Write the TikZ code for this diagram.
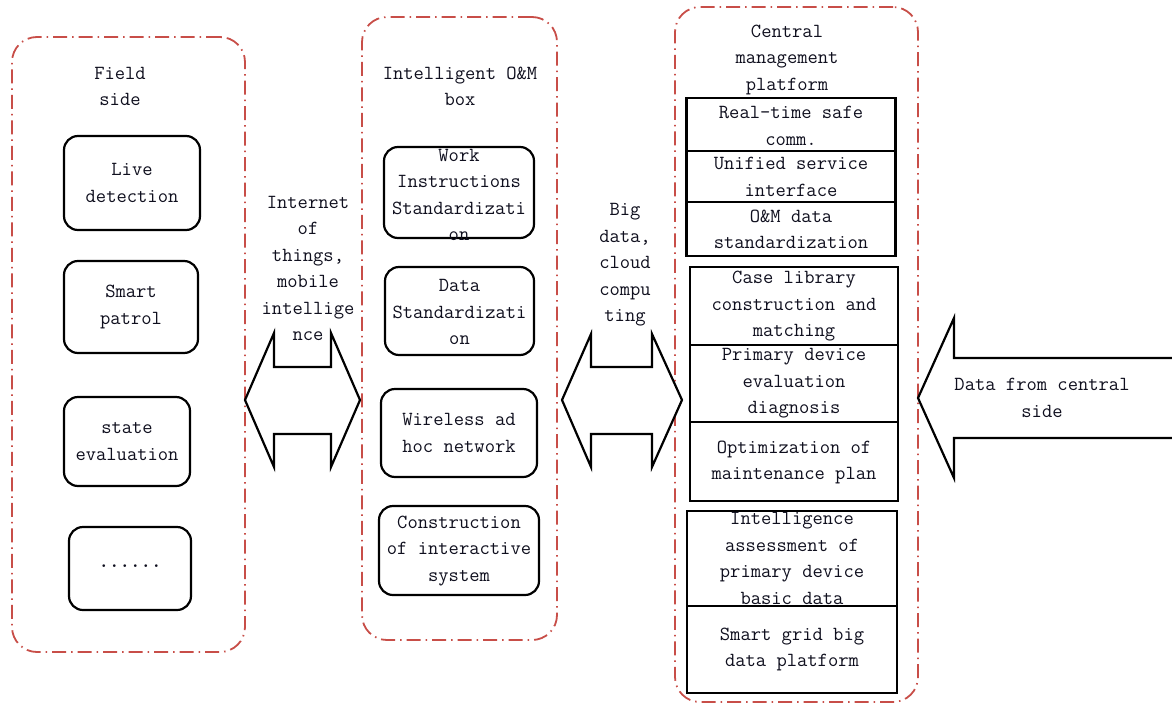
\documentclass[tikz,border=0pt]{standalone}
\definecolor{redline}{RGB}{200,78,72}
\definecolor{txt}{RGB}{15,15,30}
\tikzset{
  lbl/.style={align=center, text=txt, inner sep=0pt, font=\ttfamily\fontsize{20}{26.5}\selectfont},
  redbox/.style={draw=redline, line width=1.8pt, rounded corners=25pt,
     dash pattern=on 14pt off 5pt on 1.5pt off 5pt, inner sep=0pt, outer sep=0pt},
  roundbox/.style={draw=black, line width=2.2pt, rounded corners=14pt, inner sep=0pt},
  sqbox/.style={draw=black, line width=2.2pt, inner sep=0pt},
  bigarrow/.style={draw=black, line width=2.2pt, line join=miter, fill=white}
}
\begin{document}
\begin{tikzpicture}[x=1pt,y=-1pt]
\useasboundingbox[fill=white] (0,0) rectangle (1172,704);
% outer dashed groups
\node[redbox, minimum width=233pt, minimum height=615pt] (field) at (128.5,344.5) {};
\node[redbox, minimum width=195pt, minimum height=623pt] (box) at (459.5,328.5) {};
\node[redbox, minimum width=243pt, minimum height=695pt] (central) at (796.5,354.5) {};
% titles
\node[lbl] (fieldt) at (120,86.5) {Field\\side};
\node[lbl] (boxt) at (460,86.5) {Intelligent O\&M\\box};
\node[lbl] (centralt) at (787,59.5) {Central\\management\\platform};
% field side boxes
\node[roundbox, minimum width=136pt, minimum height=94pt] (f1) at (132,183) {};
\node[lbl] (f1t) at (f1) {Live\\detection};
\node[roundbox, minimum width=134pt, minimum height=92pt] (f2) at (131,307) {};
\node[lbl] (f2t) at (f2) {Smart\\patrol};
\node[roundbox, minimum width=126pt, minimum height=89pt] (f3) at (127,441.5) {};
\node[lbl] (f3t) at (f3) {state\\evaluation};
\node[roundbox, minimum width=122pt, minimum height=83pt] (f4) at (130,568.5) {};
\node[lbl] (f4t) at (130,566) {\textbf{......}};
% intelligent box
\node[roundbox, minimum width=150pt, minimum height=91pt] (b1) at (459,192.5) {};
\node[lbl] (b1t) at (459,195) {Work\\Instructions\\Standardizati\\on};
\node[roundbox, minimum width=149pt, minimum height=88pt] (b2) at (459.5,311) {};
\node[lbl] (b2t) at (459.5,312) {Data\\Standardizati\\on};
\node[roundbox, minimum width=156pt, minimum height=88pt] (b3) at (459,433) {};
\node[lbl] (b3t) at (459,433) {Wireless ad\\hoc network};
\node[roundbox, minimum width=160pt, minimum height=89pt] (b4) at (459,550.5) {};
\node[lbl] (b4t) at (459,551) {Construction\\of interactive\\system};
% central rectangles
\node[sqbox, minimum width=209pt, minimum height=53pt] (c1) at (791,124.5) {};
\node[lbl] (c1t) at (791,126) {Real-time safe\\comm.};
\node[sqbox, minimum width=209pt, minimum height=51pt] (c2) at (791,176.5) {};
\node[lbl] (c2t) at (791,177) {Unified service\\interface};
\node[sqbox, minimum width=209pt, minimum height=54pt] (c3) at (791,229) {};
\node[lbl] (c3t) at (791,229.5) {O\&M data\\standardization};
\node[sqbox, minimum width=208pt, minimum height=78pt] (c4) at (794,306) {};
\node[lbl] (c4t) at (794,306.5) {Case library\\construction and\\matching};
\node[sqbox, minimum width=208pt, minimum height=77pt] (c5) at (794,383.5) {};
\node[lbl] (c5t) at (794,383.5) {Primary device\\evaluation\\diagnosis};
\node[sqbox, minimum width=208pt, minimum height=79pt] (c6) at (794,461.5) {};
\node[lbl] (c6t) at (794,462.5) {Optimization of\\maintenance plan};
\node[sqbox, minimum width=210pt, minimum height=95pt] (c7) at (792,558.5) {};
\node[lbl] (c7t) at (792,558.5) {Intelligence\\assessment of\\primary device\\basic data};
\node[sqbox, minimum width=210pt, minimum height=87pt] (c8) at (792,649.5) {};
\node[lbl] (c8t) at (792,649.5) {Smart grid big\\data platform};
% double arrows
\draw[bigarrow] (245,400) -- (274,333) -- (274,367) -- (331,367) -- (331,333) -- (360,400)
  -- (331,467) -- (331,434) -- (274,434) -- (274,467) -- cycle;
\node[lbl] (a1t) at (308,268.5) {Internet\\of\\things,\\mobile\\intellige\\nce};
\draw[bigarrow] (562,400) -- (591,334) -- (591,367) -- (652,367) -- (652,334) -- (682,400)
  -- (652,467) -- (652,434) -- (591,434) -- (591,467) -- cycle;
\node[lbl] (a2t) at (625,265) {Big\\data,\\cloud\\compu\\ting};
% data from central arrow
\draw[bigarrow] (1180,358) -- (954,358) -- (954,318) -- (918,398) -- (954,478) -- (954,438) -- (1180,438);
\node[lbl] (a3t) at (1042,398) {Data from central\\side};
\end{tikzpicture}
\end{document}
